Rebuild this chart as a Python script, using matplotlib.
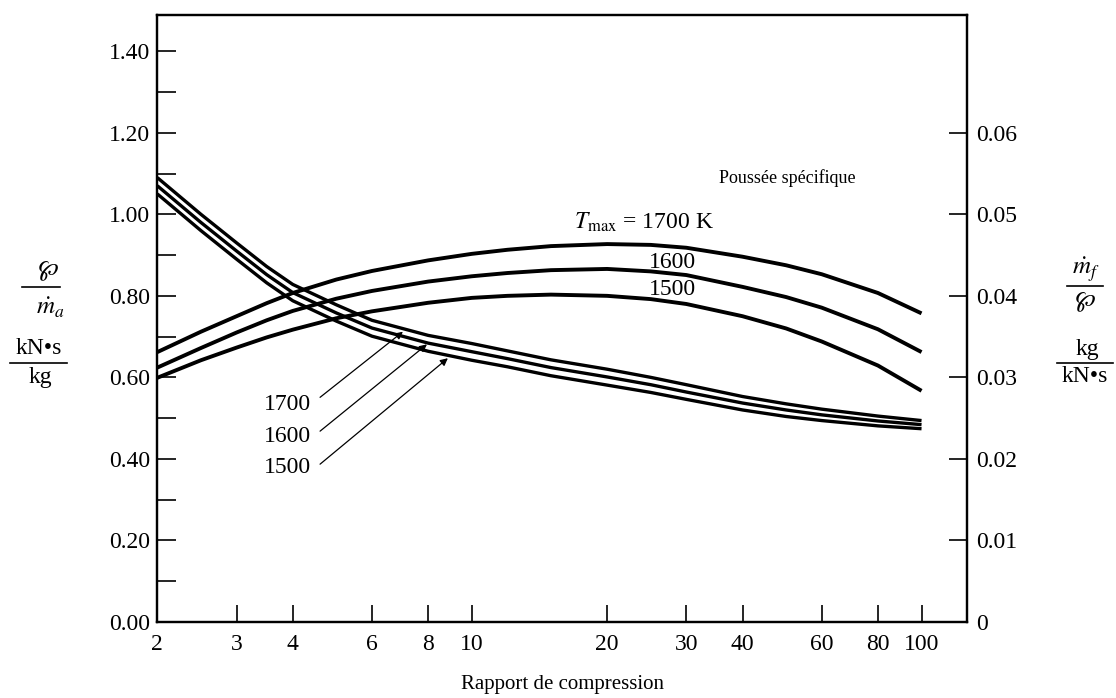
import matplotlib
matplotlib.use("Agg")
import matplotlib.pyplot as plt
from matplotlib.lines import Line2D
from matplotlib.ticker import FixedLocator, NullLocator, MultipleLocator

# ---- fonts ----
plt.rcParams['font.family'] = ['Liberation Serif', 'DejaVu Serif']
plt.rcParams['mathtext.fontset'] = 'stix'

# ---- data ----
rapport = [2, 2.5, 3, 3.5, 4, 5, 6, 8, 10, 12, 15, 20, 25, 30, 40, 50, 60, 80, 100]

# specific thrust, kN.s/kg (left axis)
poussee_1700 = [0.662, 0.712, 0.750, 0.782, 0.807, 0.840, 0.861, 0.887, 0.903, 0.913, 0.922,
                0.927, 0.925, 0.918, 0.896, 0.875, 0.853, 0.807, 0.757]
poussee_1600 = [0.624, 0.672, 0.710, 0.740, 0.763, 0.793, 0.812, 0.835, 0.848, 0.856, 0.863,
                0.866, 0.860, 0.851, 0.822, 0.797, 0.771, 0.718, 0.662]
poussee_1500 = [0.599, 0.642, 0.673, 0.698, 0.717, 0.745, 0.762, 0.783, 0.795, 0.800, 0.803,
                0.800, 0.792, 0.780, 0.750, 0.720, 0.688, 0.629, 0.567]

# specific fuel consumption, kg/kN.s (right axis)
conso_1700 = [0.0545, 0.0500, 0.0465, 0.0436, 0.0414, 0.0389, 0.0370, 0.03515, 0.03415, 0.03325,
              0.03215, 0.0310, 0.0300, 0.0291, 0.02765, 0.02675, 0.0261, 0.02525, 0.0247]
conso_1600 = [0.0535, 0.0490, 0.0455, 0.0426, 0.0404, 0.0379, 0.03605, 0.0342, 0.03315, 0.0323,
              0.0312, 0.03005, 0.0291, 0.0282, 0.02685, 0.0260, 0.0254, 0.02465, 0.0242]
conso_1500 = [0.0525, 0.0480, 0.0445, 0.0416, 0.0394, 0.0369, 0.03505, 0.0332, 0.0321, 0.0313,
              0.0302, 0.02905, 0.02815, 0.0273, 0.0260, 0.0252, 0.0247, 0.02405, 0.0237]

xticks = [2, 3, 4, 6, 8, 10, 20, 30, 40, 60, 80, 100]
xticklabels = ['2', '3', '4', '6', '8', '10', '20', '30', '40', '60', '80', '100']
yticks_left = [0.0, 0.2, 0.4, 0.6, 0.8, 1.0, 1.2, 1.4]
yticklabels_left = ['0.00', '0.20', '0.40', '0.60', '0.80', '1.00', '1.20', '1.40']
yticks_right = [0.0, 0.01, 0.02, 0.03, 0.04, 0.05, 0.06]
yticklabels_right = ['0', '0.01', '0.02', '0.03', '0.04', '0.05', '0.06']

# ---- canvas ----
fig = plt.figure(figsize=(11.16, 6.98), dpi=100)
ax = fig.add_axes([0.141, 0.109, 0.7252, 0.8695])
ax2 = ax.twinx()

ax.set_xscale('log')
ax.set_xlim(2, 126)
ax.set_ylim(0, 1.489)
ax2.set_ylim(0, 1.489 * 0.05)

for a in (ax, ax2):
    for s in a.spines.values():
        s.set_linewidth(1.6)

# curves
style = dict(color='black', solid_capstyle='butt', solid_joinstyle='round')
ax.plot(rapport, poussee_1700, lw=2.8, **style)
ax.plot(rapport, poussee_1600, lw=2.8, **style)
ax.plot(rapport, poussee_1500, lw=2.8, **style)

ax2.plot(rapport, conso_1700, lw=2.4, **style)
ax2.plot(rapport, conso_1600, lw=2.4, **style)
ax2.plot(rapport, conso_1500, lw=2.4, **style)

# ---- ticks ----
ax.xaxis.set_major_locator(FixedLocator(xticks))
ax.xaxis.set_minor_locator(NullLocator())
ax.set_xticklabels(xticklabels)
ax.set_yticks(yticks_left)
ax.set_yticklabels(yticklabels_left)
ax.yaxis.set_minor_locator(MultipleLocator(0.1))
ax.tick_params(axis='y', which='both', direction='in', length=14, width=1.2,
               labelsize=17, pad=5, right=False)
ax.tick_params(axis='x', which='both', direction='in', length=12, width=1.2,
               labelsize=17, pad=9, top=False)

ax2.set_yticks(yticks_right)
ax2.set_yticklabels(yticklabels_right)
ax2.yaxis.set_minor_locator(NullLocator())
ax2.tick_params(axis='y', which='both', direction='in', length=13, width=1.2,
                labelsize=17, pad=7)

ax.set_xlabel('Rapport de compression', fontsize=15, labelpad=14)

# ---- annotations ----
ax.text(50.2, 1.09, 'Poussée spécifique', fontsize=13, ha='center', va='center')
ax.text(16.9, 0.98, r'$T_{\mathrm{max}}$ = 1700 K', fontsize=17, ha='left', va='center')
ax.text(28.0, 0.882, '1600', fontsize=17, ha='center', va='center')
ax.text(28.0, 0.816, '1500', fontsize=17, ha='center', va='center')

arrows = [('1700', 0.534, (4.60, 0.551), (7.03, 0.712)),
          ('1600', 0.4555, (4.60, 0.468), (7.95, 0.681)),
          ('1500', 0.3796, (4.60, 0.387), (8.85, 0.647))]
for lab, ty, p0, p1 in arrows:
    ax.text(4.40, ty, lab, fontsize=17, ha='right', va='center')
    ax.annotate('', xy=p1, xytext=p0,
                arrowprops=dict(arrowstyle='-|>', color='black', lw=0.9,
                                mutation_scale=11, shrinkA=0, shrinkB=0))

# ---- fraction labels (figure coords) ----
W, H = 1116.0, 698.0

def ftext(px, py, s, fs=15):
    fig.text(px / W, 1 - py / H, s, fontsize=fs, ha='center', va='center')

def fbar(x0, x1, py, lw=1.2):
    fig.add_artist(Line2D([x0 / W, x1 / W], [1 - py / H, 1 - py / H],
                          transform=fig.transFigure, color='black', lw=lw))

# left
ftext(48, 271, r'$\wp$', 18)
fbar(22, 60, 287)
ftext(50, 308, r'$\dot{m}_a$', 18)
ftext(39, 349, 'kN•s', 17)
fbar(10, 67, 363)
ftext(40, 378, 'kg', 17)

# right
ftext(1086, 270, r'$\dot{m}_f$', 18)
fbar(1067, 1103, 286)
ftext(1085, 302, r'$\wp$', 18)
ftext(1087, 349, 'kg', 17)
fbar(1057, 1113, 363)
ftext(1085, 377, 'kN•s', 17)

fig.savefig('out.png', dpi=100)
